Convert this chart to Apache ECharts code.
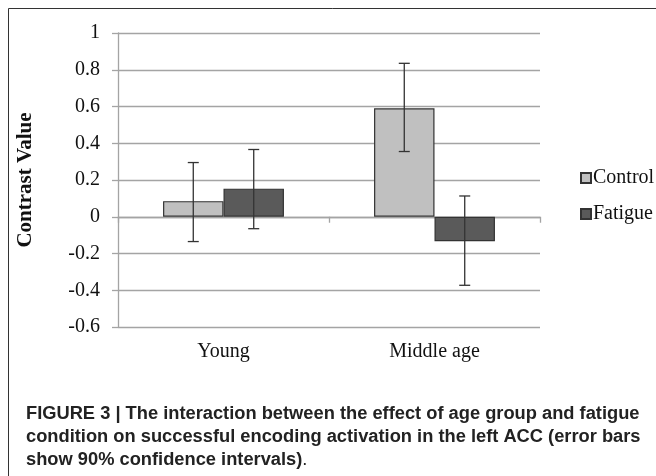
<!DOCTYPE html>
<html>
<head>
<meta charset="utf-8">
<script src="https://cdn.jsdelivr.net/npm/echarts@6/dist/echarts.min.js"></script>
<style>
html,body{margin:0;padding:0;background:#fff;}
#chart{width:656px;height:476px;}
</style>
</head>
<body>
<div id="chart"></div>
<script>
// ---- data ----
var categories = ['Young', 'Middle age'];
var seriesNames = ['Control', 'Fatigue'];
var controlValues = [0.085, 0.59];
var fatigueValues = [0.153, -0.133];
var controlCI = [[-0.135, 0.295], [0.355, 0.835]];
var fatigueCI = [[-0.065, 0.366], [-0.373, 0.113]];
var yMin = -0.6, yMax = 1, yStep = 0.2;
var yTitle = 'Contrast Value';
var captionLines = [
  'FIGURE 3 | The interaction between the effect of age group and fatigue',
  'condition on successful encoding activation in the left ACC (error bars',
  'show 90% confidence intervals)'
];

var serif = '"Liberation Serif", "Times New Roman", serif';
var sans = '"Liberation Sans", Arial, sans-serif';
var gridGray = '#a4a4a4';
var catGap = 0.427;           // barCategoryGap fraction
var barFrac = (1 - catGap) / 2;
var capFont = '18.3px ' + sans;

function errSeries(ci, idx) {
  return {
    type: 'custom',
    name: seriesNames[idx] + ' CI',
    xAxisIndex: 0,
    silent: true,
    z: 10,
    data: ci.map(function (d, i) { return [i, d[0], d[1]]; }),
    renderItem: function (params, api) {
      var band = api.size([1, 0])[0];
      var off = (idx === 0 ? -1 : 1) * band * barFrac / 2;
      var lo = api.coord([api.value(0), api.value(1)]);
      var hi = api.coord([api.value(0), api.value(2)]);
      var x = lo[0] + off;
      var cap = 5.5;
      var st = { stroke: '#333', lineWidth: 1.3 };
      return {
        type: 'group',
        children: [
          { type: 'line', shape: { x1: x, y1: lo[1], x2: x, y2: hi[1] }, style: st },
          { type: 'line', shape: { x1: x - cap, y1: lo[1], x2: x + cap, y2: lo[1] }, style: st },
          { type: 'line', shape: { x1: x - cap, y1: hi[1], x2: x + cap, y2: hi[1] }, style: st }
        ]
      };
    }
  };
}

var chart = echarts.init(document.getElementById('chart'));
chart.setOption({
  animation: false,
  backgroundColor: '#fff',
  grid: { left: 118, right: 116, top: 33, bottom: 149 },
  legend: {
    data: seriesNames,
    orient: 'vertical',
    left: 575,
    top: 163,
    itemWidth: 10,
    itemHeight: 10,
    itemGap: 16,
    icon: 'rect',
    textStyle: { fontFamily: serif, fontSize: 20, color: '#111', padding: [0, 0, 0, -3] }
  },
  xAxis: [
    {
      type: 'category',
      data: categories,
      position: 'bottom',
      axisLine: { show: false, onZero: false },
      axisTick: { show: false },
      splitLine: { show: false },
      axisLabel: { fontFamily: serif, fontSize: 20, color: '#111', margin: 15 }
    },
    {
      type: 'category',
      data: categories,
      position: 'bottom',
      axisLine: { show: true, onZero: true, lineStyle: { color: gridGray, width: 1.3 } },
      axisTick: { show: true, length: 6, lineStyle: { color: gridGray, width: 1.3 } },
      axisLabel: { show: false },
      splitLine: { show: false }
    }
  ],
  yAxis: {
    type: 'value',
    min: yMin,
    max: yMax,
    interval: yStep,
    name: yTitle,
    nameLocation: 'middle',
    nameRotate: 90,
    nameGap: 82,
    nameTextStyle: { fontFamily: serif, fontSize: 21, fontWeight: 'bold', color: '#111' },
    axisLine: { show: true, lineStyle: { color: gridGray, width: 1.3 } },
    axisTick: { show: true, length: 6, lineStyle: { color: gridGray, width: 1.3 } },
    splitLine: { show: true, lineStyle: { color: gridGray, width: 1.3 } },
    axisLabel: {
      fontFamily: serif, fontSize: 20, color: '#111', margin: 18,
      formatter: function (v) { return String(Math.round(v * 10) / 10); }
    }
  },
  series: [
    {
      type: 'bar',
      name: seriesNames[0],
      data: controlValues,
      barGap: '0%',
      barCategoryGap: (catGap * 100) + '%',
      itemStyle: { color: '#c0c0c0', borderColor: '#333', borderWidth: 1.2 }
    },
    {
      type: 'bar',
      name: seriesNames[1],
      data: fatigueValues,
      barGap: '0%',
      barCategoryGap: (catGap * 100) + '%',
      itemStyle: { color: '#5a5a5a', borderColor: '#333', borderWidth: 1.2 }
    },
    errSeries(controlCI, 0),
    errSeries(fatigueCI, 1)
  ],
  graphic: [
    {
      type: 'rect',
      silent: true,
      shape: { x: 8.5, y: 8.5, width: 700, height: 500 },
      style: { fill: 'none', stroke: '#333', lineWidth: 1 }
    },
    {
      type: 'text', left: 26, top: 405,
      style: { text: captionLines[0], font: 'bold ' + capFont, fill: '#222' }
    },
    {
      type: 'text', left: 26, top: 428,
      style: { text: captionLines[1], font: 'bold ' + capFont, fill: '#222' }
    },
    {
      type: 'text', left: 26, top: 451,
      style: {
        text: '{b|' + captionLines[2] + '}{n|.}',
        rich: {
          b: { font: 'bold ' + capFont, fill: '#222' },
          n: { font: capFont, fill: '#222' }
        }
      }
    }
  ]
});
</script>
</body>
</html>
